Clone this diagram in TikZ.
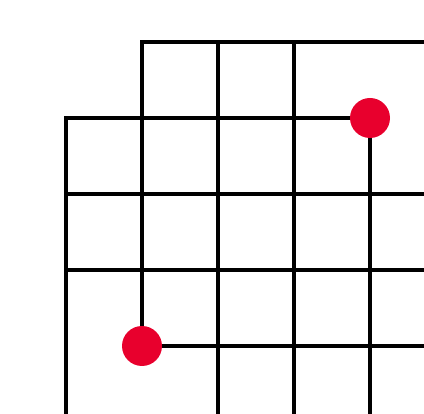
\documentclass[tikz,border=0pt]{standalone}
\usepackage{xcolor}
\definecolor{dotred}{HTML}{E8002D}

\begin{document}
\begin{tikzpicture}[
    x=1pt, y=-1pt,
    gridline/.style={black, line width=4.6pt, line join=miter},
    pin/.style={circle, fill=dotred, inner sep=0pt, minimum size=40pt}
]
\useasboundingbox (0,0) rectangle (424,414);

% the two end points of the broken lines
\coordinate (lowdot) at (142,346);
\coordinate (highdot) at (370,118);

% --- grid lines ---
\draw[gridline] (lowdot) -- (142,42) -- (424,42);
\draw[gridline] (66,414) -- (66,118) -- (highdot) -- (370,414);
\foreach \x in {218,294}
  \draw[gridline] (\x,42) -- (\x,414);
\foreach \y in {194,270}
  \draw[gridline] (66,\y) -- (424,\y);
\draw[gridline] (lowdot) -- (424,346);

% --- red dots ---
\node[pin] (lowpin) at (lowdot) {};
\node[pin] (highpin) at (highdot) {};

\end{tikzpicture}
\end{document}
